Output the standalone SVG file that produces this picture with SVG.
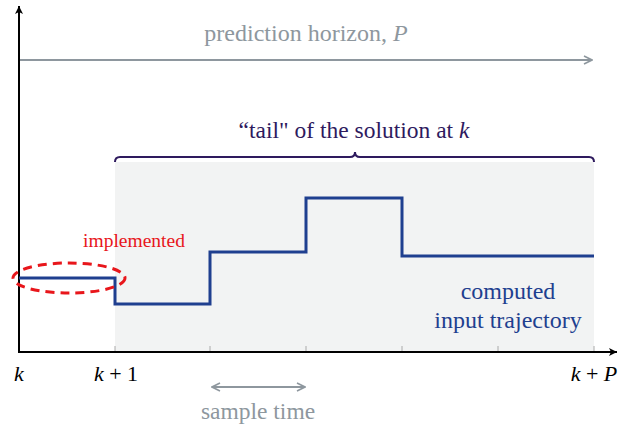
<svg xmlns="http://www.w3.org/2000/svg" width="618" height="428" viewBox="0 0 618 428">
<defs>
<marker id="ah" viewBox="0 0 10 10" refX="9" refY="5" markerWidth="10" markerHeight="10" markerUnits="userSpaceOnUse" orient="auto-start-reverse"><path d="M1,1 L9,5 L1,9" fill="none" stroke="context-stroke" stroke-width="1.6"/></marker>
<marker id="ahk" viewBox="0 0 10 10" refX="9" refY="5" markerWidth="10" markerHeight="10" markerUnits="userSpaceOnUse" orient="auto"><path d="M1,1 L9,5 L1,9 L3,5 Z" fill="#000"/></marker>
</defs>
<style>
text{font-family:"Liberation Serif","DejaVu Serif",serif}
.gray{fill:#8e979e}
.lbl{font-size:22px;fill:#000}
.it{font-style:italic}
</style>
<rect id="tail-region" x="115" y="162" width="479" height="190" fill="#f2f3f3"/>
<g id="connectors">
<line x1="19" y1="60" x2="592" y2="60" stroke="#8e979e" stroke-width="2" marker-end="url(#ah)"/>
<line x1="212" y1="387" x2="305" y2="387" stroke="#8e979e" stroke-width="2" marker-start="url(#ah)" marker-end="url(#ah)"/>
</g>
<g id="axes">
<line x1="19" y1="353" x2="19" y2="6" stroke="#000" stroke-width="2" marker-end="url(#ahk)"/>
<line x1="18" y1="352" x2="617" y2="352" stroke="#000" stroke-width="2" marker-end="url(#ahk)"/>
<g stroke="#aaa" stroke-width="1">
<line x1="115" y1="346" x2="115" y2="351"/>
<line x1="210" y1="346" x2="210" y2="351"/>
<line x1="306" y1="346" x2="306" y2="351"/>
<line x1="402" y1="346" x2="402" y2="351"/>
<line x1="498" y1="346" x2="498" y2="351"/>
<line x1="594" y1="346" x2="594" y2="351"/>
</g>
</g>
<g id="horizon-label"><text x="306" y="41" text-anchor="middle" class="gray" font-size="24">prediction horizon, <tspan class="it">P</tspan></text></g>
<g id="brace">
<path d="M115,162 Q115,157 120,157 L350,157 Q355,157 355,152 Q355,157 360,157 L589,157 Q594,157 594,162" fill="none" stroke="#2e1a5e" stroke-width="2"/>
<text x="354" y="138" text-anchor="middle" font-size="23.5" fill="#2e1a5e">“tail" of the solution at <tspan class="it">k</tspan></text>
</g>
<g id="trajectory">
<path d="M19,278 H115 V304 H210 V252 H306 V198 H402 V256 H594" fill="none" stroke="#1f3f8f" stroke-width="3"/>
<text x="508" y="299" text-anchor="middle" font-size="24" fill="#1f3f8f">computed</text>
<text x="508" y="328" text-anchor="middle" font-size="24" fill="#1f3f8f">input trajectory</text>
</g>
<g id="implemented">
<ellipse cx="69" cy="278" rx="56" ry="15" fill="none" stroke="#e8161b" stroke-width="3" stroke-dasharray="9,6"/>
<text x="134" y="247" text-anchor="middle" font-size="19.5" fill="#e8161b">implemented</text>
</g>
<g id="tick-labels">
<text x="19" y="381" text-anchor="middle" class="lbl it">k</text>
<text x="116" y="381" text-anchor="middle" class="lbl"><tspan class="it">k</tspan> + 1</text>
<text x="594" y="381" text-anchor="middle" class="lbl"><tspan class="it">k</tspan> + <tspan class="it">P</tspan></text>
</g>
<g id="sample-time"><text x="258" y="419" text-anchor="middle" class="gray" font-size="23.5">sample time</text></g>
</svg>
